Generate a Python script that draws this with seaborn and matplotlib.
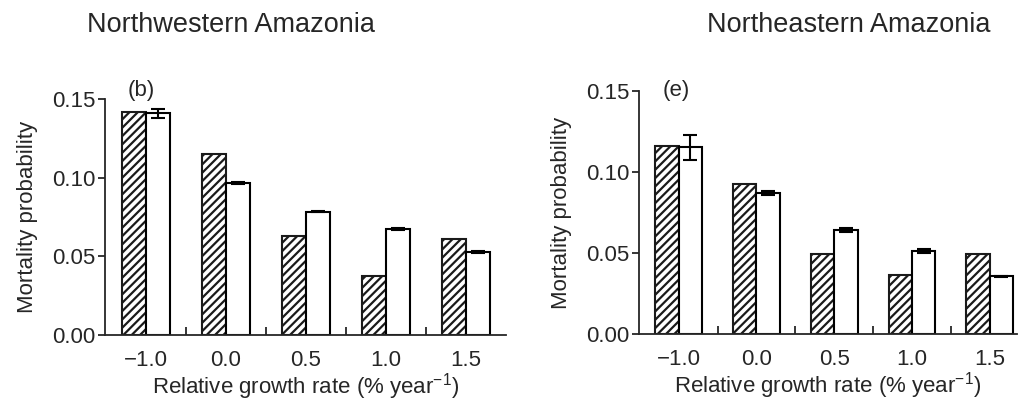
import numpy as np
import pandas as pd
import matplotlib
matplotlib.use('Agg')
import matplotlib.pyplot as plt
import seaborn as sns
from matplotlib.ticker import FixedLocator

# --- Data ---
growth_rates = ['\u22121.0', '0.0', '0.5', '1.0', '1.5']
series_names = ['observed', 'model']

nw_observed = [0.142, 0.115, 0.063, 0.0375, 0.0608]
nw_model = [0.141, 0.0968, 0.0784, 0.0674, 0.0526]
nw_model_err = [0.0028, 0.0005, 0.0005, 0.0005, 0.0005]

ne_observed = [0.1162, 0.0928, 0.0496, 0.0362, 0.0492]
ne_model = [0.1152, 0.0870, 0.0644, 0.0512, 0.0356]
ne_model_err = [0.0078, 0.0012, 0.0013, 0.0014, 0.0004]

sns.set_style('ticks')
plt.rcParams['font.family'] = ['Liberation Sans', 'DejaVu Sans']
plt.rcParams['mathtext.fontset'] = 'custom'
plt.rcParams['mathtext.rm'] = 'Liberation Sans'
plt.rcParams['mathtext.it'] = 'Liberation Sans'
plt.rcParams['hatch.linewidth'] = 1.6
plt.rcParams['hatch.color'] = '#3c3c3c'

TICK_FS = 16
LABEL_FS = 16
TITLE_FS = 19.5


def make_frame(observed, model):
    return pd.DataFrame({
        'rate': growth_rates * 2,
        'series': [series_names[0]] * len(growth_rates) + [series_names[1]] * len(growth_rates),
        'mortality': list(observed) + list(model),
    })


def draw_panel(ax, observed, model, model_err, letter, letter_pos, xmax):
    df = make_frame(observed, model)
    sns.barplot(data=df, x='rate', y='mortality', hue='series', order=growth_rates,
                hue_order=series_names, palette=['white', 'white'], width=0.6,
                edgecolor='black', linewidth=1.5, errorbar=None, legend=False, ax=ax)

    # hatch the observed bars, error bars on model bars
    for bar in ax.containers[0]:
        bar.set_hatch('////')
        bar.set_edgecolor('#1a1a1a')
    for bar, val, err in zip(ax.containers[1], model, model_err):
        xc = bar.get_x() + bar.get_width() / 2
        ax.errorbar(xc, val, yerr=err, fmt='none', ecolor='black',
                    elinewidth=1.5, capsize=5, capthick=1.5, zorder=5)

    ax.set_xlim(-0.51, xmax)
    ax.set_ylim(0, 0.15)
    ax.set_yticks([0.0, 0.05, 0.10, 0.15])
    ax.set_yticklabels(['0.00', '0.05', '0.10', '0.15'])
    ax.xaxis.set_minor_locator(FixedLocator([0.5, 1.5, 2.5, 3.5]))
    ax.tick_params(axis='x', which='major', length=0, labelsize=TICK_FS, pad=11)
    ax.tick_params(axis='x', which='minor', direction='in', length=6, width=1.3)
    ax.tick_params(axis='y', direction='out', length=5, width=1.3, labelsize=TICK_FS, pad=2)
    for side in ['left', 'bottom']:
        ax.spines[side].set_linewidth(1.3)
    sns.despine(ax=ax)

    ax.set_xlabel('Relative growth rate (% year$^{-1}$)', fontsize=LABEL_FS, labelpad=0)
    ax.set_ylabel('Mortality probability', fontsize=LABEL_FS, labelpad=10)
    ax.text(letter_pos[0], letter_pos[1], letter, transform=ax.transAxes, fontsize=LABEL_FS,
            ha='center', va='bottom')


fig = plt.figure(figsize=(10.18, 4.03), dpi=100)
ax_nw = fig.add_axes([0.1031, 0.1687, 0.3940, 0.5856])
ax_ne = fig.add_axes([0.6277, 0.1712, 0.3713, 0.6030])

draw_panel(ax_nw, nw_observed, nw_model, nw_model_err, '(b)', (0.09, 0.99), 4.5)
draw_panel(ax_ne, ne_observed, ne_model, ne_model_err, '(e)', (0.098, 0.958), 4.35)

fig.text(0.227, 0.938, 'Northwestern Amazonia', fontsize=TITLE_FS, ha='center', va='center')
fig.text(0.834, 0.938, 'Northeastern Amazonia', fontsize=TITLE_FS, ha='center', va='center')

fig.savefig('out.png', dpi=100)
